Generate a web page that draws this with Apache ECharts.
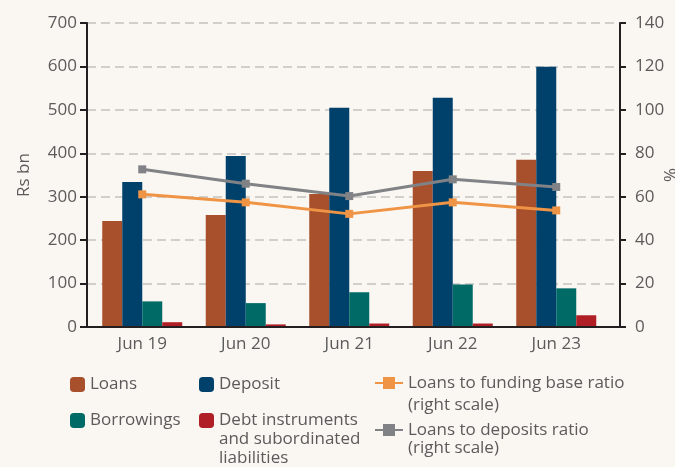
<!DOCTYPE html>
<html>
<head>
<meta charset="utf-8">
<script src="https://cdn.jsdelivr.net/npm/echarts@6/dist/echarts.min.js"></script>
<style>
html,body{margin:0;padding:0;background:#faf6f2;}
#chart{width:675px;height:467px;}
</style>
</head>
<body>
<div id="chart"></div>
<script>
var categories = ['Jun 19', 'Jun 20', 'Jun 21', 'Jun 22', 'Jun 23'];
var loans = [244, 258, 306, 359, 385];
var deposit = [334, 394, 505, 528, 599];
var borrowings = [59, 55, 80, 98, 89];
var debtInstruments = [11, 6, 8, 8, 27];
var loansToFundingBase = [61.1, 57.4, 52.1, 57.4, 53.7];
var loansToDeposits = [72.6, 66.0, 60.3, 68.0, 64.5];
var leftTicks = [0, 100, 200, 300, 400, 500, 600, 700];
var rightTicks = [0, 20, 40, 60, 80, 100, 120, 140];

var names = {
  loans: 'Loans',
  deposit: 'Deposit',
  borrowings: 'Borrowings',
  debt: 'Debt instruments and subordinated liabilities',
  fund: 'Loans to funding base ratio (right scale)',
  dep: 'Loans to deposits ratio (right scale)'
};
var legendLines = {};
legendLines[names.debt] = ['Debt instruments', 'and subordinated', 'liabilities'];
legendLines[names.fund] = ['Loans to funding base ratio', '(right scale)'];
legendLines[names.dep] = ['Loans to deposits ratio', '(right scale)'];

var colors = {
  loans: '#a84f2c', deposit: '#00416b', borrowings: '#006b66', debt: '#b01f25',
  fund: '#ef9444', dep: '#808285'
};
var FONT = 'Open Sans';
var TXT = '#5b5b5b';
var AX = '#231f20';

function legend(name, left, top, lh) {
  var isLine = (name === names.fund || name === names.dep);
  return {
    data: [name], left: left, top: top, padding: 0,
    itemWidth: isLine ? 28 : 15,
    itemHeight: 15,
    selectedMode: false,
    formatter: function (n) {
      var lines = legendLines[n] || [n];
      var pre = '';
      for (var i = 1; i < lines.length; i++) pre += '\n';
      return pre + lines.join('\n');
    },
    textStyle: {fontFamily: FONT, fontSize: 17, color: TXT, lineHeight: lh}
  };
}

var chart = echarts.init(document.getElementById('chart'));
chart.setOption({
  backgroundColor: '#faf6f2',
  animation: false,
  grid: [
    {left: 87, right: 55, top: 23, bottom: 140, outerBoundsMode: 'none', containLabel: false},
    {left: 90.5, right: 67, top: 23, bottom: 140, outerBoundsMode: 'none', containLabel: false}
  ],
  legend: [
    legend(names.loans, 70, 374.5, 20),
    legend(names.deposit, 199, 374.5, 20),
    legend(names.borrowings, 70, 410.5, 20),
    legend(names.debt, 199, 373, 19),
    legend(names.fund, 374, 350, 22),
    legend(names.dep, 374, 403, 18)
  ],
  xAxis: [
    {
      type: 'value', gridIndex: 0, min: 0, max: 1, z: 10,
      axisLine: {show: true, lineStyle: {color: AX, width: 2}},
      axisTick: {show: false}, axisLabel: {show: false}, splitLine: {show: false}
    },
    {
      type: 'category', gridIndex: 1, data: categories,
      axisLine: {show: false}, axisTick: {show: false},
      axisLabel: {fontFamily: FONT, fontSize: 17, color: TXT, margin: 9}
    }
  ],
  yAxis: [
    {
      type: 'value', gridIndex: 0, position: 'left', min: leftTicks[0], max: leftTicks[leftTicks.length - 1], interval: 100,
      name: 'Rs bn', nameLocation: 'middle', nameGap: 54, nameMoveOverlap: false,
      nameTextStyle: {fontFamily: FONT, fontSize: 17, color: TXT},
      axisLine: {show: true, lineStyle: {color: AX, width: 2}},
      axisTick: {show: true, length: 7, lineStyle: {color: AX, width: 2}},
      axisLabel: {fontFamily: FONT, fontSize: 17, color: TXT, margin: 10},
      splitLine: {show: true, lineStyle: {color: '#c4c2c0', width: 1.5, type: [9, 5]}}
    },
    {
      type: 'value', gridIndex: 0, position: 'right', min: rightTicks[0], max: rightTicks[rightTicks.length - 1], interval: 20,
      name: '%', nameLocation: 'middle', nameGap: 40, nameRotate: -90, nameMoveOverlap: false,
      nameTextStyle: {fontFamily: FONT, fontSize: 17, color: TXT},
      axisLine: {show: true, lineStyle: {color: AX, width: 2}},
      axisTick: {show: true, length: 6, lineStyle: {color: AX, width: 2}},
      axisLabel: {fontFamily: FONT, fontSize: 17, color: TXT, margin: 15},
      splitLine: {show: false}
    },
    {type: 'value', gridIndex: 1, min: 0, max: 700, show: false},
    {type: 'value', gridIndex: 1, min: 0, max: 140, show: false}
  ],
  series: [
    {name: names.loans, type: 'bar', xAxisIndex: 1, yAxisIndex: 2, data: loans, barWidth: 20, barGap: '0%', itemStyle: {color: colors.loans}},
    {name: names.deposit, type: 'bar', xAxisIndex: 1, yAxisIndex: 2, data: deposit, barWidth: 20, barGap: '0%', itemStyle: {color: colors.deposit}},
    {name: names.borrowings, type: 'bar', xAxisIndex: 1, yAxisIndex: 2, data: borrowings, barWidth: 20, barGap: '0%', itemStyle: {color: colors.borrowings}},
    {name: names.debt, type: 'bar', xAxisIndex: 1, yAxisIndex: 2, data: debtInstruments, barWidth: 20, barGap: '0%', itemStyle: {color: colors.debt}},
    {name: names.fund, type: 'line', xAxisIndex: 1, yAxisIndex: 3, data: loansToFundingBase, symbol: 'rect', symbolSize: 8, z: 5,
     lineStyle: {color: colors.fund, width: 3}, itemStyle: {color: colors.fund}},
    {name: names.dep, type: 'line', xAxisIndex: 1, yAxisIndex: 3, data: loansToDeposits, symbol: 'rect', symbolSize: 8, z: 5,
     lineStyle: {color: colors.dep, width: 3}, itemStyle: {color: colors.dep}}
  ]
});
</script>
</body>
</html>
